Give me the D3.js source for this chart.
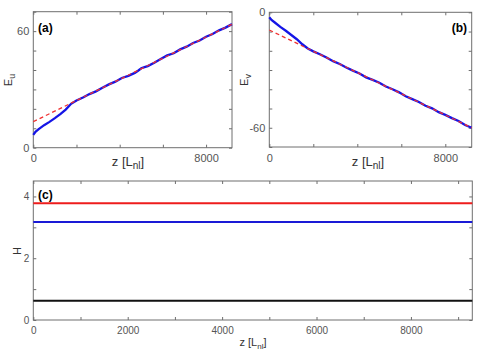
<!DOCTYPE html>
<html>
<head>
<meta charset="utf-8">
<script src="https://cdn.jsdelivr.net/npm/d3@7"></script>
<style>
  body { margin: 0; background: #fff; }
  svg { font-family: "Liberation Sans", Arial, sans-serif; }
</style>
</head>
<body>
<div id="my_dataviz"></div>
<script>
// ---- data ----
// panel (a): E_u versus z
var zA = [0, 100, 250, 500, 750, 1000, 1250, 1500, 1750, 2000, 2300, 2600, 2900, 3200, 3500, 3800, 4100, 4400, 4700, 4850, 5000, 5150, 5300, 5600, 5900, 6200, 6500, 6800, 7100, 7400, 7700, 8000, 8300, 8600, 8900, 9200]
var euBlue = [6.6, 8.2, 9.6, 11.6, 13.3, 15.2, 17.3, 19.6, 22.6, 24.3, 25.8, 27.6, 29.0, 30.9, 32.6, 34.0, 35.9, 37.0, 38.5, 39.6, 40.9, 41.5, 42.0, 43.7, 45.7, 47.5, 48.6, 50.6, 52.0, 53.9, 55.2, 57.1, 58.5, 60.4, 61.8, 63.6]
var zFit = [0, 9200]
var euFit = [13.4, 63.5]

// panel (b): E_v versus z
var zB = [0, 100, 250, 500, 750, 1000, 1250, 1500, 1750, 2000, 2300, 2600, 2900, 3200, 3500, 3800, 4100, 4400, 4700, 5000, 5300, 5600, 5900, 6200, 6500, 6800, 7100, 7400, 7700, 8000, 8300, 8600, 8900, 9200]
var evBlue = [-2.6, -4.0, -5.3, -7.6, -9.6, -11.8, -14.0, -16.6, -18.8, -20.3, -21.8, -23.5, -25.4, -26.9, -28.7, -30.3, -31.8, -33.8, -35.1, -36.6, -38.6, -40.0, -41.6, -43.6, -45.1, -46.6, -48.6, -49.9, -51.9, -53.3, -55.0, -56.5, -58.6, -60.0]
var evFit = [-9.2, -60.0]

// panel (c): H versus z (constant lines)
var zC = [0, 9300]
var hNames = ["red", "blue", "black"]
var hValues = [3.78, 3.17, 0.62]

// tick labels
var topXLabels = [0, 8000]
var aYLabels = [0, 60]
var bYLabels = [0, -60]
var cXLabels = [0, 2000, 4000, 6000, 8000]
var cYLabels = [0, 2, 4]

var svg = d3.select("#my_dataviz")
  .append("svg")
    .attr("width", 480)
    .attr("height", 355)

var frameColor = "#6e6e6e"
var labelColor = "#555"

// draws a boxed panel with inner ticks on all four sides
function panel(box, xDom, yDom, xStep, yStep, xLab, yLab, fs) {
  var x = d3.scaleLinear().domain(xDom).range([box.left, box.right])
  var y = d3.scaleLinear().domain(yDom).range([box.bottom, box.top])
  var xt = d3.range(xDom[0], xDom[1] + 1, xStep)
  var yt = d3.range(Math.ceil(yDom[0] / yStep) * yStep, yDom[1] + 0.001, yStep)
  var fmtX = function(d) { return xLab.indexOf(d) >= 0 ? d : "" }
  var fmtY = function(d) { return yLab.indexOf(Math.round(d)) >= 0 ? Math.round(d) : "" }

  var g = svg.append("g")

  g.append("g").attr("transform", "translate(0," + box.bottom + ")")
    .call(d3.axisBottom(x).tickValues(xt).tickSize(-3).tickPadding(7).tickFormat(fmtX))
  g.append("g").attr("transform", "translate(0," + box.top + ")")
    .call(d3.axisTop(x).tickValues(xt).tickSize(-3).tickFormat(""))
  g.append("g").attr("transform", "translate(" + box.left + ",0)")
    .call(d3.axisLeft(y).tickValues(yt).tickSize(-3).tickPadding(4).tickFormat(fmtY))
  g.append("g").attr("transform", "translate(" + box.right + ",0)")
    .call(d3.axisRight(y).tickValues(yt).tickSize(-3).tickFormat(""))

  g.selectAll(".domain").remove()
  g.selectAll(".tick line").attr("stroke", frameColor)
  g.selectAll(".tick text").attr("fill", labelColor).attr("font-size", fs + "px")

  g.append("rect")
    .attr("x", box.left)
    .attr("y", box.top)
    .attr("width", box.right - box.left)
    .attr("height", box.bottom - box.top)
    .attr("fill", "none")
    .attr("stroke", frameColor)
    .attr("stroke-width", 1)

  return {x: x, y: y}
}

function line(sc, xs, ys) {
  return d3.line()
    .x(function(d, i) { return sc.x(xs[i]) })
    .y(function(d, i) { return sc.y(ys[i]) })(ys)
}

// panel (a)
var a = panel({left: 33.3, right: 232, top: 11.7, bottom: 147.7}, [0, 9200], [0, 70], 2000, 10, topXLabels, aYLabels, 11)
svg.append("path").attr("d", line(a, zA, euBlue))
  .attr("fill", "none").attr("stroke", "#1515e6").attr("stroke-width", 2.3)
svg.append("path").attr("d", line(a, zFit, euFit))
  .attr("fill", "none").attr("stroke", "#f03030").attr("stroke-width", 1.3)
  .attr("stroke-dasharray", "4,3")

// panel (b)
var b = panel({left: 269.3, right: 471.7, top: 12.3, bottom: 147}, [0, 9200], [-70, 0], 2000, 10, topXLabels, bYLabels, 11)
svg.append("path").attr("d", line(b, zB, evBlue))
  .attr("fill", "none").attr("stroke", "#1515e6").attr("stroke-width", 2.3)
svg.append("path").attr("d", line(b, zFit, evFit))
  .attr("fill", "none").attr("stroke", "#f03030").attr("stroke-width", 1.3)
  .attr("stroke-dasharray", "4,3")

// panel (c)
var c = panel({left: 33.3, right: 472.3, top: 181, bottom: 320}, [0, 9300], [0, 4.5], 1000, 1, cXLabels, cYLabels, 10)
var hColors = {red: "#ee1c1c", blue: "#1a1ad6", black: "#111"}
hValues.forEach(function(v, i) {
  svg.append("path").attr("d", line(c, zC, [v, v]))
    .attr("fill", "none").attr("stroke", hColors[hNames[i]]).attr("stroke-width", 2)
})

// panel tags
svg.append("text").attr("x", 38).attr("y", 31.5).attr("font-size", "12px").attr("font-weight", "bold").text("(a)")
svg.append("text").attr("x", 467).attr("y", 31.5).attr("text-anchor", "end").attr("font-size", "12px").attr("font-weight", "bold").text("(b)")
svg.append("text").attr("x", 38).attr("y", 198.5).attr("font-size", "12px").attr("font-weight", "bold").text("(c)")

// axis titles
function yTitle(xpos, ypos, main, sub, fs) {
  var t = svg.append("text")
    .attr("transform", "translate(" + xpos + "," + ypos + ") rotate(-90)")
    .attr("text-anchor", "middle")
    .attr("font-size", fs + "px")
    .attr("fill", "#333")
  t.append("tspan").text(main)
  if (sub) t.append("tspan").attr("dy", 3).attr("font-size", (fs - 2) + "px").text(sub)
}
yTitle(12.3, 80, "E", "u", 11)
yTitle(247.5, 80, "E", "v", 11)
yTitle(20.7, 251, "H", null, 11)

function zTitle(xpos, ypos, fs) {
  var t = svg.append("text")
    .attr("x", xpos).attr("y", ypos)
    .attr("text-anchor", "middle")
    .attr("font-size", fs + "px")
    .attr("fill", "#333")
  t.append("tspan").text("z [L")
  t.append("tspan").attr("dy", 3).attr("font-size", (fs - 3) + "px").text("nl")
  t.append("tspan").attr("dy", -3).text("]")
}
zTitle(128, 165.5, 13)
zTitle(368, 165.5, 13)
zTitle(253, 346, 11)
</script>
</body>
</html>
